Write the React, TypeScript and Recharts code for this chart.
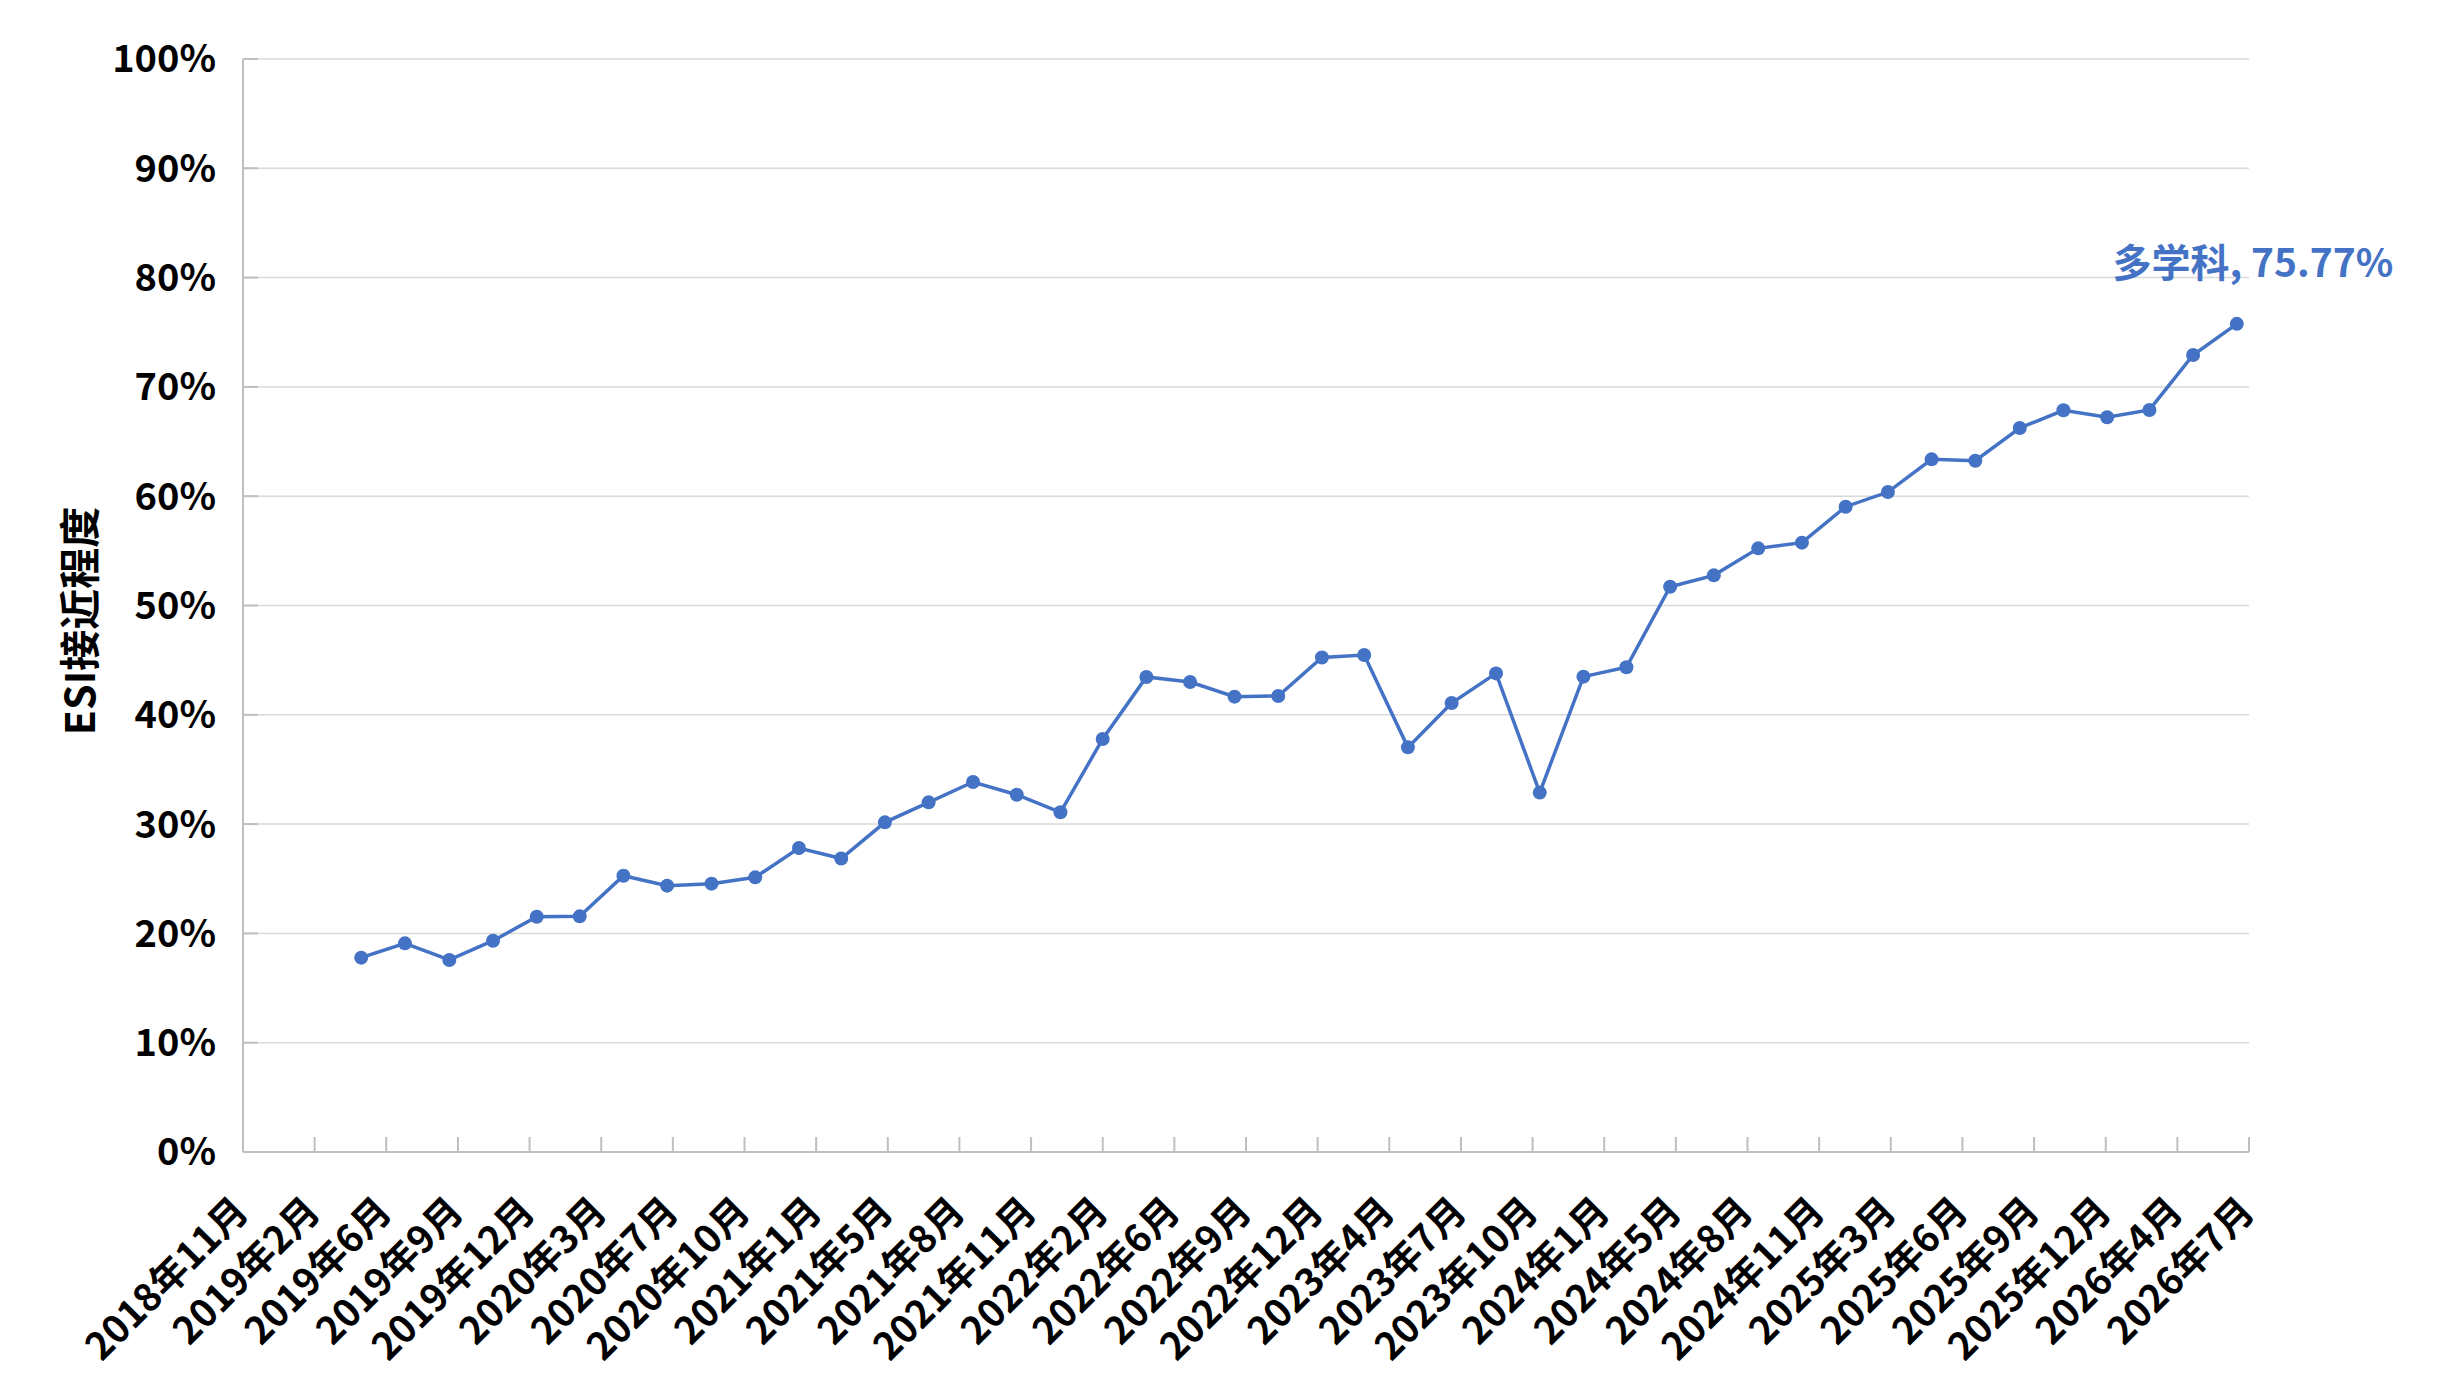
import React from 'react';
import {
  CartesianGrid,
  Label,
  Line,
  LineChart,
  XAxis,
  YAxis,
} from 'recharts';

// Release months of the bi-monthly ESI update (one point per release).
const RELEASES = [
  '2019-05', '2019-07', '2019-09', '2019-11',
  '2020-01', '2020-03', '2020-05', '2020-07', '2020-09', '2020-11',
  '2021-01', '2021-03', '2021-05', '2021-07', '2021-09', '2021-11',
  '2022-01', '2022-03', '2022-05', '2022-07', '2022-09', '2022-11',
  '2023-01', '2023-03', '2023-05', '2023-07', '2023-09', '2023-11',
  '2024-01', '2024-03', '2024-05', '2024-07', '2024-09', '2024-11',
  '2025-01', '2025-03', '2025-05', '2025-07', '2025-09', '2025-11',
  '2026-01', '2026-03', '2026-05', '2026-07',
];

// Closeness to the ESI threshold, in percent.
const CLOSENESS = [
  17.78, 19.09, 17.57, 19.33,
  21.53, 21.56, 25.28, 24.37, 24.55, 25.13,
  27.81, 26.85, 30.16, 31.99, 33.85, 32.69,
  31.08, 37.79, 43.46, 43.0, 41.66, 41.72,
  45.24, 45.47, 37.02, 41.08, 43.79, 32.88,
  43.49, 44.35, 51.72, 52.76, 55.23, 55.75,
  59.04, 60.38, 63.37, 63.25, 66.24, 67.86,
  67.22, 67.89, 72.92, 75.77,
];

const SERIES_NAME = '多学科';

// Date axis: one major tick every 100 days, like the Excel original.
const TICK_LABELS = [
  '2018年11月', '2019年2月', '2019年6月', '2019年9月', '2019年12月',
  '2020年3月', '2020年7月', '2020年10月', '2021年1月', '2021年5月',
  '2021年8月', '2021年11月', '2022年2月', '2022年6月', '2022年9月',
  '2022年12月', '2023年4月', '2023年7月', '2023年10月', '2024年1月',
  '2024年5月', '2024年8月', '2024年11月', '2025年3月', '2025年6月',
  '2025年9月', '2025年12月', '2026年4月', '2026年7月',
];
const Y_TICKS = [0, 10, 20, 30, 40, 50, 60, 70, 80, 90, 100];

const DAY = 86400000;
const TICK_STEP = 100 * DAY;
const AXIS_START = Date.UTC(2018, 10, 17);
const X_TICKS = TICK_LABELS.map((_, i) => AXIS_START + i * TICK_STEP);

const toTime = (ym: string) => {
  const [y, m] = ym.split('-').map(Number);
  return Date.UTC(y, m - 1, 1);
};

const data = RELEASES.map((r, i) => ({ t: toTime(r), value: CLOSENESS[i] }));

const FONT = '"Noto Sans CJK SC", "Noto Sans", sans-serif';
const BLUE = '#4472C4';

function DateTick({ x, y, payload }: any) {
  const idx = Math.round((payload.value - AXIS_START) / TICK_STEP);
  const tx = x - 4;
  return (
    <text
      x={tx}
      y={y}
      transform={`rotate(-45 ${tx} ${y})`}
      textAnchor="end"
      dominantBaseline="central"
      fontFamily={FONT}
      fontWeight={700}
      fontSize={38}
      fill="#000"
    >
      {TICK_LABELS[idx]}
    </text>
  );
}

function LastPointLabel({ x, y, index, value }: any) {
  if (index !== CLOSENESS.length - 1) return null;
  return (
    <text
      x={x + 16}
      y={y - 64}
      textAnchor="middle"
      dominantBaseline="central"
      fontFamily={FONT}
      fontWeight={700}
      fontSize={39}
      fill={BLUE}
    >
      {`${SERIES_NAME}, ${Number(value).toFixed(2)}%`}
    </text>
  );
}

export default function App() {
  return (
    <div style={{ position: 'absolute', left: 0, top: 0, background: '#fff' }}>
      <LineChart
        width={2460}
        height={1392}
        data={data}
        margin={{ top: 59, right: 211, bottom: 40, left: 43 }}
      >
        <CartesianGrid vertical={false} stroke="#D9D9D9" strokeWidth={1.5} />
        <XAxis
          dataKey="t"
          type="number"
          scale="linear"
          domain={[X_TICKS[0], X_TICKS[X_TICKS.length - 1]]}
          ticks={X_TICKS}
          interval={0}
          height={200}
          axisLine={{ stroke: '#BFBFBF', strokeWidth: 2 }}
          tickLine={{ stroke: '#BFBFBF', strokeWidth: 2 }}
          tickSize={-15}
          tickMargin={65}
          tick={<DateTick />}
        />
        <YAxis
          type="number"
          domain={[0, 100]}
          ticks={Y_TICKS}
          interval={0}
          width={200}
          axisLine={{ stroke: '#BFBFBF', strokeWidth: 2 }}
          tickLine={{ stroke: '#BFBFBF', strokeWidth: 2 }}
          tickSize={-15}
          tickMargin={42}
          tickFormatter={(v: number) => `${v}%`}
          tick={{ fontFamily: FONT, fontWeight: 700, fontSize: 38, fill: '#000' }}
        >
          <Label
            content={() => (
              <text
                x={77}
                y={621}
                transform="rotate(-90 77 621)"
                textAnchor="middle"
                dominantBaseline="central"
                fontFamily={FONT}
                fontWeight={700}
                fontSize={41}
                fill="#000"
              >
                ESI接近程度
              </text>
            )}
          />
        </YAxis>
        <Line
          type="linear"
          dataKey="value"
          stroke={BLUE}
          strokeWidth={3.5}
          dot={{ r: 7, fill: BLUE, stroke: 'none' }}
          activeDot={false}
          isAnimationActive={false}
          label={<LastPointLabel />}
        />
      </LineChart>
    </div>
  );
}
